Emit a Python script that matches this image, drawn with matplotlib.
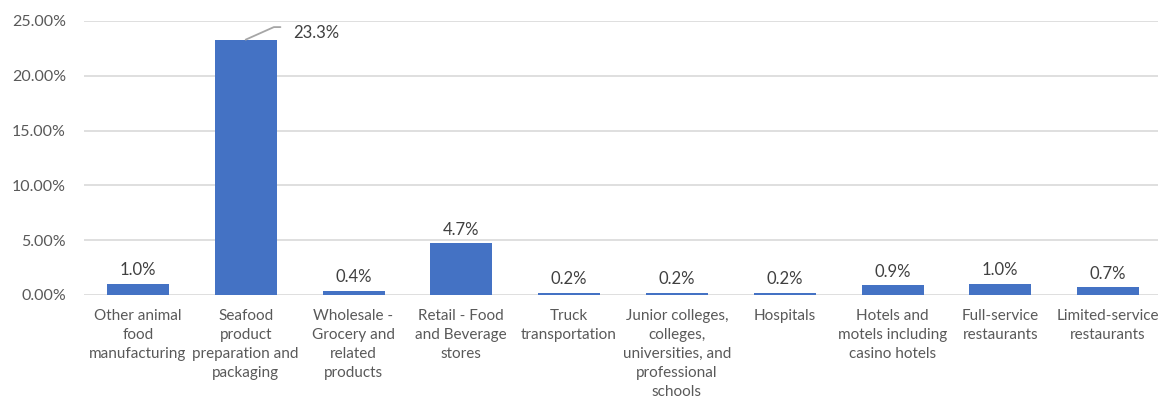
import matplotlib.pyplot as plt
from matplotlib.ticker import FuncFormatter

categories = [
    "Other animal\nfood\nmanufacturing",
    "Seafood\nproduct\npreparation and\npackaging",
    "Wholesale -\nGrocery and\nrelated\nproducts",
    "Retail - Food\nand Beverage\nstores",
    "Truck\ntransportation",
    "Junior colleges,\ncolleges,\nuniversities, and\nprofessional\nschools",
    "Hospitals",
    "Hotels and\nmotels including\ncasino hotels",
    "Full-service\nrestaurants",
    "Limited-service\nrestaurants",
]
shares = [0.010, 0.233, 0.004, 0.047, 0.002, 0.002, 0.002, 0.009, 0.010, 0.007]
yticks = [0.0, 0.05, 0.10, 0.15, 0.20, 0.25]

plt.rcParams['font.family'] = ['Lato', 'DejaVu Sans']

W, H = 1158, 399
fig = plt.figure(figsize=(W / 100, H / 100), dpi=100)
left, right = 84, 1158
y0, y25 = 295, 21
ax = fig.add_axes([left / W, (H - y0) / H, (right - left) / W, (y0 - y25) / H])

step = 107.8
ax.set_xlim(-0.5, -0.5 + (right - left) / step)
ax.set_ylim(0, 0.25)

x = list(range(len(categories)))
ax.bar(x, shares, width=62 / step, color="#4472C4", zorder=3)

ax.set_yticks(yticks)
ax.yaxis.set_major_formatter(FuncFormatter(lambda v, p: f"{v * 100:.2f}%"))
ax.grid(axis="y", color="#d9d9d9", linewidth=1.2, zorder=0)
ax.set_axisbelow(True)
for s in ax.spines.values():
    s.set_visible(False)
ax.tick_params(axis="y", length=0, labelsize=11.5, colors="#595959", pad=13)
ax.tick_params(axis="x", length=0, pad=0)
ax.set_xticks(x)
ax.set_xticklabels([])

# category labels under each bar
for i, lab in enumerate(categories):
    ax.annotate(lab, (i, 0), xytext=(0, -10), textcoords="offset points",
                ha="center", va="top", fontsize=11, color="#595959",
                linespacing=1.45, annotation_clip=False)

# value labels (tallest bar gets a leader line)
for i, v in enumerate(shares):
    if i == 1:
        ax.annotate(f"{v * 100:.1f}%", (i, v), xytext=(34, 5),
                    textcoords="offset points", ha="left", va="center",
                    fontsize=12, color="#404040",
                    arrowprops=dict(arrowstyle="-", color="#a6a6a6", lw=1.3,
                                    relpos=(0, 0.85), shrinkA=7, shrinkB=0,
                                    connectionstyle="angle,angleA=0,angleB=24,rad=0"))
    else:
        ax.annotate(f"{v * 100:.1f}%", (i, v), xytext=(0, 4),
                    textcoords="offset points", ha="center", va="bottom",
                    fontsize=12, color="#404040")

fig.savefig("out.png", dpi=100)
